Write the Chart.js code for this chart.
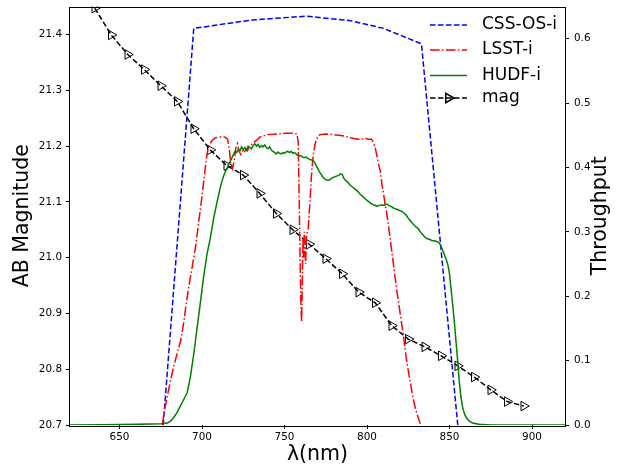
<!DOCTYPE html>
<html>
<head>
<meta charset="utf-8">
<script src="https://cdn.jsdelivr.net/npm/chart.js@4.4.0/dist/chart.umd.min.js"></script>
<style>
  html, body { margin: 0; padding: 0; background: #fff; }
</style>
</head>
<body>
<canvas id="c" width="625" height="471"></canvas>
<script>
// --- values ---
const seriesNames = ['CSS-OS-i', 'LSST-i', 'HUDF-i', 'mag'];
const xTicks = [650, 700, 750, 800, 850, 900];
const magTicks = [20.7, 20.8, 20.9, 21.0, 21.1, 21.2, 21.3, 21.4];
const tpTicks = [0.0, 0.1, 0.2, 0.3, 0.4, 0.5, 0.6];

// [wavelength nm, throughput]
const cssCurve = [
  [676.5, 0], [695, 0.616], [730, 0.629], [763, 0.635], [790, 0.628],
  [810, 0.616], [833, 0.592], [855, 0]
];

const lsstCurve = [
  [676, 0], [677, 0.02], [679, 0.045], [681, 0.07], [683, 0.092], [685, 0.112],
  [687, 0.13], [689, 0.16], [690, 0.18], [692, 0.215], [694, 0.245], [696, 0.275],
  [698, 0.315], [700, 0.355], [702, 0.4], [703, 0.42], [704, 0.432], [706, 0.442],
  [708, 0.446], [710, 0.447], [712, 0.448], [714, 0.447], [715.5, 0.444], [716.5, 0.43],
  [717.5, 0.405], [718.5, 0.398], [719.5, 0.41], [720.5, 0.43], [721.5, 0.437], [722.5, 0.425],
  [723.5, 0.42], [724.5, 0.426], [725.5, 0.423], [726.5, 0.428], [727.5, 0.426], [728.5, 0.432],
  [729.5, 0.434], [731, 0.438], [733, 0.442], [735, 0.447], [737, 0.449], [740, 0.451],
  [745, 0.452], [750, 0.453], [755, 0.453], [757.5, 0.452], [758.3, 0.44], [758.9, 0.35],
  [759.5, 0.25], [760, 0.18], [760.4, 0.16], [760.8, 0.22], [761.2, 0.29], [761.6, 0.26],
  [762, 0.3], [762.4, 0.27], [762.8, 0.25], [763.2, 0.29], [763.8, 0.3], [764.4, 0.305],
  [765.5, 0.35], [766.5, 0.395], [767.5, 0.42], [768.5, 0.436], [770, 0.447], [771.5, 0.451],
  [775, 0.452], [780, 0.451], [783, 0.45], [786, 0.449], [789, 0.447], [792, 0.445],
  [795, 0.444], [797, 0.444], [798.8, 0.446], [800.5, 0.444], [802.8, 0.444], [804, 0.438],
  [805, 0.43], [806, 0.418], [807, 0.405], [808, 0.395], [809, 0.375], [810, 0.36],
  [811, 0.342], [812, 0.328], [813, 0.31], [814, 0.29], [815, 0.27], [816, 0.25],
  [818, 0.21], [820, 0.175], [822, 0.14], [823, 0.12], [824, 0.1], [826, 0.07],
  [828, 0.04], [830, 0.02], [832.5, 0]
];

const hudfCurve = [
  [620, 0], [640, 0.0005], [660, 0.001], [675, 0.002], [679, 0.003], [681, 0.006],
  [683, 0.012], [685, 0.02], [687, 0.03], [689, 0.04], [691, 0.05], [693, 0.075],
  [695, 0.11], [697, 0.15], [699, 0.19], [701, 0.23], [703, 0.265], [705, 0.29],
  [707, 0.32], [709, 0.345], [711, 0.368], [712, 0.378], [713, 0.386], [714, 0.393],
  [715, 0.397], [716, 0.405], [717, 0.409], [718, 0.414], [719, 0.42], [720, 0.425],
  [721, 0.423], [722, 0.428], [723, 0.426], [724, 0.432], [725, 0.428], [726, 0.431],
  [727, 0.427], [728, 0.433], [729, 0.431], [730, 0.429], [731, 0.434], [732, 0.437],
  [733, 0.433], [734, 0.436], [735, 0.431], [736, 0.434], [737, 0.432], [738, 0.435],
  [739, 0.431], [740, 0.429], [741, 0.432], [742, 0.427], [743, 0.425], [744, 0.423],
  [745, 0.421], [746, 0.424], [747, 0.422], [748, 0.421], [749, 0.423], [750, 0.422],
  [751, 0.424], [752, 0.425], [753, 0.423], [754, 0.425], [755, 0.422], [756, 0.423],
  [757, 0.421], [758, 0.419], [759, 0.418], [760, 0.418], [761, 0.416], [762, 0.415],
  [763, 0.416], [764, 0.414], [765, 0.413], [766, 0.412], [767, 0.411], [768, 0.409],
  [769, 0.404], [770, 0.399], [771, 0.394], [772, 0.39], [773, 0.386], [774, 0.383],
  [775, 0.381], [776, 0.38], [777, 0.38], [778, 0.382], [779, 0.384], [780, 0.385],
  [781, 0.386], [782, 0.387], [783, 0.388], [784, 0.39], [785, 0.389], [786, 0.383],
  [787, 0.38], [788, 0.378], [789, 0.375], [790, 0.372], [791, 0.37], [792, 0.368],
  [793, 0.366], [794, 0.364], [795, 0.361], [796, 0.358], [797, 0.356], [798, 0.354],
  [799, 0.351], [800, 0.349], [801, 0.347], [802, 0.345], [803, 0.343], [804, 0.342],
  [805, 0.341], [806, 0.34], [807, 0.341], [808, 0.341], [809, 0.342], [810, 0.341],
  [811, 0.342], [812, 0.343], [813, 0.341], [814, 0.34], [815, 0.339], [816, 0.337],
  [817, 0.336], [818, 0.335], [819, 0.334], [820, 0.333], [821, 0.332], [822, 0.33],
  [823, 0.328], [824, 0.325], [825, 0.321], [826, 0.318], [827, 0.315], [828, 0.312],
  [829, 0.309], [830, 0.307], [831, 0.305], [832, 0.301], [833, 0.298], [834, 0.295],
  [835, 0.292], [836, 0.29], [837, 0.289], [838, 0.288], [839, 0.287], [840, 0.286],
  [841, 0.286], [842, 0.285], [843, 0.284], [844, 0.282], [845, 0.277], [846, 0.27],
  [847, 0.264], [848, 0.257], [849, 0.249], [850, 0.235], [851, 0.21], [852, 0.185],
  [853, 0.158], [854, 0.128], [855, 0.098], [856, 0.065], [857, 0.042], [858, 0.027],
  [859, 0.018], [860, 0.012], [862, 0.006], [864, 0.003], [868, 0.001], [875, 0],
  [920, 0]
];

const magWl = [635, 645, 655, 665, 675, 685, 695, 705, 715, 725, 735, 745, 755, 765,
               775, 785, 795, 805, 815, 825, 835, 845, 855, 865, 875, 885, 895];
const magVal = [21.447, 21.399, 21.364, 21.337, 21.308, 21.280, 21.231, 21.193, 21.165,
                21.148, 21.115, 21.079, 21.050, 21.024, 20.998, 20.971, 20.938, 20.919,
                20.878, 20.854, 20.840, 20.824, 20.806, 20.786, 20.763, 20.742, 20.734];

const FONT = '"DejaVu Sans", sans-serif';
const toXY = pairs => pairs.map(p => ({ x: p[0], y: p[1] }));

const tickFont = { family: FONT, size: 10.4 };
const tickMarks = { drawOnChartArea: false, drawTicks: true, tickLength: 4, color: '#000', lineWidth: 1 };

// matplotlib-like frame around the axes
const framePlugin = {
  id: 'frame',
  beforeDatasetsDraw(chart) {
    const { ctx, chartArea: a } = chart;
    ctx.save();
    ctx.strokeStyle = '#000';
    ctx.lineWidth = 1;
    ctx.strokeRect(Math.round(a.left) - 0.5, Math.round(a.top) + 0.5,
                   Math.round(a.right - a.left) + 1, Math.round(a.bottom - a.top));
    ctx.restore();
  }
};

// right axis title reads bottom-to-top like the left one
const rightTitlePlugin = {
  id: 'rightTitle',
  afterDraw(chart) {
    const { ctx, chartArea: a } = chart;
    ctx.save();
    ctx.translate(601, (a.top + a.bottom) / 2);
    ctx.rotate(-Math.PI / 2);
    ctx.fillStyle = '#000';
    ctx.font = '20.5px ' + FONT;
    ctx.textAlign = 'center';
    ctx.textBaseline = 'middle';
    ctx.fillText('Throughput', 0, 0);
    ctx.restore();
  }
};

// legend in the upper right, drawn inside the plot like matplotlib
const legendPlugin = {
  id: 'innerLegend',
  afterDraw(chart) {
    const { ctx } = chart;
    const rows = [25, 50, 75.5, 98];
    const x0 = 430, x1 = 467, tx = 482;
    ctx.save();
    chart.data.datasets.forEach((ds, i) => {
      const y = rows[i];
      ctx.strokeStyle = ds.borderColor;
      ctx.lineWidth = ds.borderWidth;
      ctx.setLineDash(ds.borderDash || []);
      ctx.beginPath();
      ctx.moveTo(x0, y);
      ctx.lineTo(x1, y);
      ctx.stroke();
      ctx.setLineDash([]);
      if (ds.pointRadius > 0) {
        ctx.fillStyle = 'rgba(0,0,0,0)';
        ctx.strokeStyle = ds.pointBorderColor;
        Chart.helpers.drawPoint(ctx, {
          pointStyle: ds.pointStyle, rotation: ds.pointRotation,
          radius: ds.pointRadius, borderWidth: ds.pointBorderWidth
        }, (x0 + x1) / 2, y);
      }
      ctx.fillStyle = '#000';
      ctx.font = '17px ' + FONT;
      ctx.textAlign = 'left';
      ctx.textBaseline = 'middle';
      ctx.fillText(ds.label, tx, y);
    });
    ctx.restore();
  }
};

new Chart(document.getElementById('c'), {
  type: 'line',
  data: {
    datasets: [
      {
        label: seriesNames[0], data: toXY(cssCurve), yAxisID: 'y1', order: 3,
        borderColor: '#0000ff', borderWidth: 1.5, borderDash: [5.5, 2.5],
        pointRadius: 0, tension: 0, fill: false
      },
      {
        label: seriesNames[1], data: toXY(lsstCurve), yAxisID: 'y1', order: 2,
        borderColor: '#ff0000', borderWidth: 1.5, borderDash: [9.6, 2.4, 1.5, 2.4],
        pointRadius: 0, tension: 0, fill: false
      },
      {
        label: seriesNames[2], data: toXY(hudfCurve), yAxisID: 'y1', order: 1,
        borderColor: '#008000', borderWidth: 1.5,
        pointRadius: 0, tension: 0, fill: false
      },
      {
        label: seriesNames[3], data: magWl.map((w, i) => ({ x: w, y: magVal[i] })),
        yAxisID: 'y', order: 4,
        borderColor: '#000', borderWidth: 1.5, borderDash: [5.5, 2.5],
        pointStyle: 'triangle', pointRotation: 90, pointRadius: 5.5,
        pointBorderColor: '#000', pointBackgroundColor: 'rgba(0,0,0,0)', pointBorderWidth: 1,
        tension: 0, fill: false
      }
    ]
  },
  options: {
    responsive: false,
    animation: false,
    devicePixelRatio: 1,
    layout: { padding: { top: 2, left: 0, right: 0, bottom: 0 } },
    plugins: { legend: { display: false }, tooltip: { enabled: false } },
    scales: {
      x: {
        type: 'linear', min: 620, max: 920,
        afterBuildTicks: s => { s.ticks = xTicks.map(v => ({ value: v })); },
        afterFit: s => { s.height = 46; s.paddingLeft = 0; s.paddingRight = 0; },
        ticks: { font: tickFont, color: '#000', padding: 2, maxRotation: 0, callback: v => String(v) },
        grid: tickMarks,
        border: { display: false },
        title: { display: true, text: 'λ(nm)', color: '#000', font: { family: FONT, size: 20.5 },
                 padding: { top: 0, bottom: 4 } }
      },
      y: {
        type: 'linear', position: 'left', min: 20.7, max: 21.45,
        afterBuildTicks: s => { s.ticks = magTicks.map(v => ({ value: v })); },
        afterFit: s => { s.width = 70; s.paddingTop = 0; s.paddingBottom = 0; },
        ticks: { font: tickFont, color: '#000', padding: 4, callback: v => v.toFixed(1) },
        grid: tickMarks,
        border: { display: false },
        title: { display: true, text: 'AB Magnitude', color: '#000', font: { family: FONT, size: 20.5 },
                 padding: { top: 10, bottom: 0 } }
      },
      y1: {
        type: 'linear', position: 'right', min: 0, max: 0.65,
        afterBuildTicks: s => { s.ticks = tpTicks.map(v => ({ value: v })); },
        afterFit: s => { s.width = 60; s.paddingTop = 0; s.paddingBottom = 0; },
        ticks: { font: tickFont, color: '#000', padding: 5, callback: v => v.toFixed(1) },
        grid: tickMarks,
        border: { display: false },
        title: { display: false }
      }
    }
  },
  plugins: [framePlugin, rightTitlePlugin, legendPlugin]
});
</script>
</body>
</html>
